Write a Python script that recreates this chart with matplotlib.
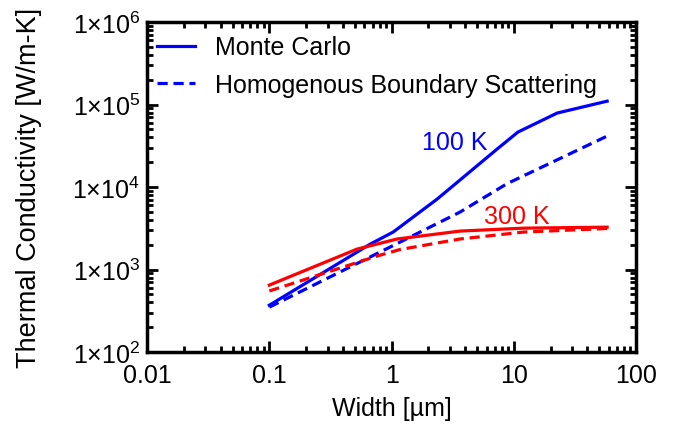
import numpy as np
import matplotlib
matplotlib.use('Agg')
import matplotlib.pyplot as plt
from matplotlib.ticker import FixedLocator, LogLocator, NullFormatter

plt.rcParams['font.family'] = ['Liberation Sans', 'DejaVu Sans']
plt.rcParams['mathtext.fontset'] = 'custom'
plt.rcParams['mathtext.rm'] = 'Liberation Sans'
plt.rcParams['mathtext.it'] = 'Liberation Sans:italic'

# 100 K
mc_100_w = [0.1, 0.67, 1.03, 2.36, 7.3, 10.8, 22.6, 58]
mc_100_k = [370, 2040, 2850, 7160, 28900, 46400, 78900, 110000]
hbs_100_w = [0.1, 1.17, 3.63, 8.8, 58]
hbs_100_k = [351, 2150, 4980, 11000, 41500]

# 300 K
mc_300_w = [0.1, 0.52, 1.11, 3.63, 12, 58]
mc_300_k = [649, 1770, 2350, 2930, 3180, 3270]
hbs_300_w = [0.1, 0.76, 1.17, 3.63, 12, 58]
hbs_300_k = [551, 1460, 1750, 2350, 2850, 3150]

fs = 18
lw = 2.3
dash = (3.2, 1.8)

fig = plt.figure(figsize=(6.81, 4.27), dpi=100)
ax = fig.add_axes([0.216, 0.173, 0.718, 0.773])

ax.plot(mc_100_w, mc_100_k, color='#0000ff', lw=lw, label='Monte Carlo')
ax.plot(hbs_100_w, hbs_100_k, color='#0000ff', lw=lw, dashes=dash,
        label='Homogenous Boundary Scattering')
ax.plot(mc_300_w, mc_300_k, color='#ff0000', lw=lw)
ax.plot(hbs_300_w, hbs_300_k, color='#ff0000', lw=lw, dashes=dash)

ax.set_xscale('log')
ax.set_yscale('log')
ax.set_xlim(0.01, 100)
ax.set_ylim(1e2, 1e6)

xticks = [0.01, 0.1, 1, 10, 100]
xlabels = ['0.01', '0.1', '1', '10', '100']
yticks = [1e2, 1e3, 1e4, 1e5, 1e6]
ylabels = [r'1$\times$10$^{%d}$' % int(np.log10(v)) for v in yticks]

ax.xaxis.set_major_locator(FixedLocator(xticks))
ax.set_xticklabels(xlabels)
ax.yaxis.set_major_locator(FixedLocator(yticks))
ax.set_yticklabels(ylabels)
ax.xaxis.set_minor_locator(LogLocator(base=10, subs=np.arange(2, 10), numticks=20))
ax.yaxis.set_minor_locator(LogLocator(base=10, subs=np.arange(2, 10), numticks=20))
ax.xaxis.set_minor_formatter(NullFormatter())
ax.yaxis.set_minor_formatter(NullFormatter())

ax.tick_params(which='both', direction='in', top=True, right=True, width=2,
               labelsize=fs, colors='black')
ax.tick_params(which='major', length=8)
ax.tick_params(axis='y', which='major', pad=5)
ax.tick_params(axis='x', which='major', pad=8)
ax.tick_params(which='minor', length=4)
for s in ax.spines.values():
    s.set_linewidth(2.5)

ax.set_xlabel('Width [µm]', fontsize=fs, labelpad=6)
ax.set_ylabel('Thermal Conductivity [W/m-K]', fontsize=19.5)
ax.yaxis.set_label_coords(-0.215, 0.5)

ax.text(3.3, 3.5e4, '100 K', color='#0000ff', fontsize=fs, ha='center', va='center')
ax.text(10.6, 4.45e3, '300 K', color='#ff0000', fontsize=fs, ha='center', va='center')

ax.legend(loc='upper left', bbox_to_anchor=(0.0, 0.99), frameon=False,
          fontsize=fs, handlelength=1.5, handletextpad=0.8,
          borderaxespad=0.0, labelspacing=0.55)

fig.savefig('out.png', dpi=100)
